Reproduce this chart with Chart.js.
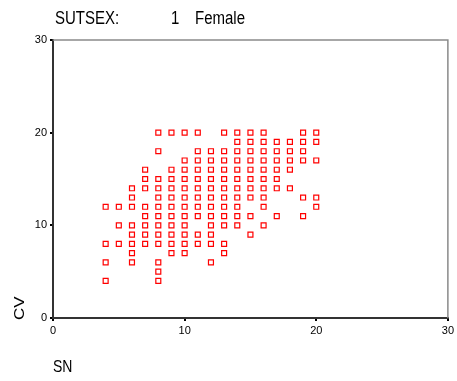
<!DOCTYPE html>
<html><head><meta charset="utf-8">
<script src="https://cdn.jsdelivr.net/npm/chart.js@4"></script>
<style>html,body{margin:0;padding:0;background:#fff}#wrap{position:relative;width:457px;height:381px}</style>
</head><body><div id="wrap"><canvas id="c" width="457" height="381"></canvas></div>
<script>
// ---- data ----
const titleLabel = 'SUTSEX:';
const titleValue = '1';
const titleGroup = 'Female';
const xTitle = 'SN';
const yTitle = 'CV';
const tickValues = [0, 10, 20, 30];
// CV levels and the SN values observed at each level
const cvLevels = [20, 19, 18, 17, 16, 15, 14, 13, 12, 11, 10, 9, 8, 7, 6, 5, 4];
const snAtCv = [
  [8, 9, 10, 11, 13, 14, 15, 16, 19, 20],
  [14, 15, 16, 17, 18, 19, 20],
  [8, 11, 12, 13, 14, 15, 16, 17, 18, 19],
  [10, 11, 12, 13, 14, 15, 16, 17, 18, 19, 20],
  [7, 9, 10, 11, 12, 13, 14, 15, 16, 17, 18],
  [7, 8, 9, 10, 11, 12, 13, 14, 15, 16, 17],
  [6, 7, 8, 9, 10, 11, 12, 13, 14, 15, 16, 17, 18],
  [6, 8, 9, 10, 11, 12, 13, 14, 15, 16, 19, 20],
  [4, 5, 6, 7, 8, 9, 10, 11, 12, 13, 14, 16, 20],
  [7, 8, 9, 10, 11, 12, 13, 14, 15, 17, 19],
  [5, 6, 7, 8, 9, 10, 12, 13, 14, 16],
  [6, 7, 8, 9, 10, 11, 12, 15],
  [4, 5, 6, 7, 8, 9, 10, 11, 12, 13],
  [6, 9, 10, 13],
  [4, 6, 8, 12],
  [8],
  [4, 8]
];

const points = [];
cvLevels.forEach((cv, i) => snAtCv[i].forEach(sn => points.push({x: sn, y: cv})));

const FONT = 'Liberation Sans, Arial, sans-serif';

const decor = {
  id: 'decor',
  afterDraw(chart) {
    const ctx = chart.ctx, a = chart.chartArea;
    ctx.save();
    // top and right frame lines
    ctx.strokeStyle = '#8a8a8a';
    ctx.lineWidth = 1.5;
    ctx.beginPath();
    ctx.moveTo(a.left, a.top);
    ctx.lineTo(a.right, a.top);
    ctx.lineTo(a.right, a.bottom);
    ctx.stroke();
    ctx.fillStyle = '#000';
    ctx.textBaseline = 'alphabetic';
    ctx.textAlign = 'left';
    // title (slightly tall glyphs like the original)
    const drawTall = (txt, x, y, size, sy) => {
      ctx.save();
      ctx.translate(x, y);
      ctx.scale(1, sy);
      ctx.font = size + 'px ' + FONT;
      ctx.fillText(txt, 0, 0);
      ctx.restore();
    };
    drawTall(titleLabel, 55, 23.5, 15, 1.2);
    drawTall(titleValue, 171, 23.5, 15, 1.2);
    drawTall(titleGroup, 195, 23.5, 15, 1.2);
    drawTall(xTitle, 53, 372, 14, 1.2);
    // y title rotated
    ctx.save();
    ctx.translate(24, 320);
    ctx.rotate(-Math.PI / 2);
    ctx.scale(1.2, 1);
    ctx.font = '14px ' + FONT;
    ctx.fillText(yTitle, 0, 0);
    ctx.restore();
    ctx.restore();
  }
};

new Chart(document.getElementById('c'), {
  type: 'scatter',
  data: {
    datasets: [{
      data: points,
      pointStyle: 'rect',
      pointRadius: 3.5,
      pointHoverRadius: 3.5,
      borderColor: '#ff0000',
      backgroundColor: 'rgba(255,255,255,0)',
      pointBorderWidth: 1.2
    }]
  },
  options: {
    responsive: false,
    animation: false,
    devicePixelRatio: 1,
    layout: {padding: {top: 40, right: 9, left: 0, bottom: 0}},
    plugins: {legend: {display: false}, tooltip: {enabled: false}, title: {display: false}},
    scales: {
      x: {
        type: 'linear', min: 0, max: 30,
        afterBuildTicks: s => { s.ticks = tickValues.map(v => ({value: v})); },
        afterFit: s => { s.height = 63; },
        ticks: {color: '#000', font: {family: FONT, size: 11}, padding: 3, maxRotation: 0},
        grid: {display: true, drawOnChartArea: false, drawTicks: true, tickLength: 3, color: '#000', lineWidth: 2},
        border: {display: true, color: '#333', width: 2}
      },
      y: {
        type: 'linear', min: 0, max: 30,
        afterBuildTicks: s => { s.ticks = tickValues.map(v => ({value: v})); },
        afterFit: s => { s.width = 53; },
        ticks: {color: '#000', font: {family: FONT, size: 11}, padding: 3},
        grid: {display: true, drawOnChartArea: false, drawTicks: true, tickLength: 3, color: '#000', lineWidth: 2},
        border: {display: true, color: '#333', width: 2}
      }
    }
  },
  plugins: [decor]
});
</script>
</body></html>
